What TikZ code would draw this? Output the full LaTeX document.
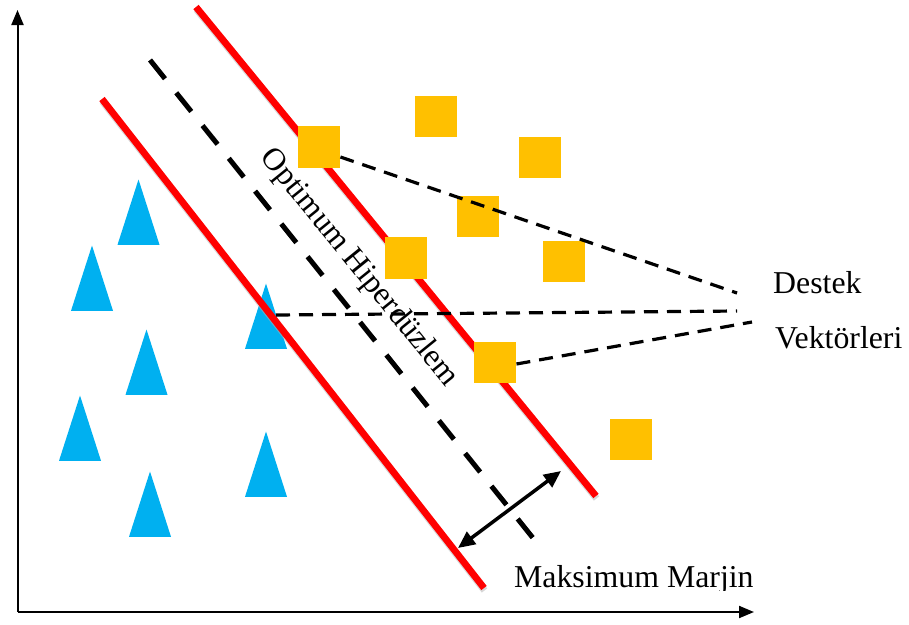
\documentclass[tikz,border=0pt]{standalone}
\usepackage{fontspec}
\setmainfont{Liberation Serif}
\usetikzlibrary{arrows.meta}
\definecolor{sqcol}{HTML}{FFC000}
\definecolor{tricol}{HTML}{00B0F0}
\newcommand\mytri[3]{\coordinate (#1) at (#2,#3);
  \fill[tricol] (#1) -- ++(21,65.3) -- ++(-42,0) -- cycle;}
\begin{document}
\begin{tikzpicture}[x=1pt,y=-1pt,
  sq/.style={fill=sqcol, minimum width=42.5pt, minimum height=41.5pt, inner sep=0pt, draw=none},
  redline/.style={draw=red, line width=6.8pt},
  redshadow/.style={draw=black!30, opacity=0.5, line width=6.8pt},
  hyper/.style={draw=black, line width=5pt, dash pattern=on 24pt off 18pt},
  svline/.style={draw=black, line width=3.2pt, dash pattern=on 14pt off 9pt},
  axisline/.style={draw=black, line width=2pt, -{Triangle[length=15pt,width=12pt]}},
  marjin/.style={draw=black, line width=3.5pt, {Triangle[length=17pt,width=15pt]}-{Triangle[length=17pt,width=15pt]}},
  lbl/.style={font=\fontsize{31.8}{38}\selectfont, inner sep=0pt, anchor=base west}]
\useasboundingbox (0,0) rectangle (909,624);
\fill[white] (0,0) rectangle (909,624);
% triangles
\mytri{t1}{138.5}{179.5}
\mytri{t2}{92}{245.5}
\mytri{t3}{146.5}{329.5}
\mytri{t4}{266}{283.5}
\mytri{t5}{80}{395.5}
\mytri{t6}{150}{471.5}
\mytri{t7}{266}{431.5}
% margin and hyperplane lines
\coordinate (r1a) at (196,7);
\coordinate (r1b) at (596,496);
\coordinate (r2a) at (102,99);
\coordinate (r2b) at (484,588);
\coordinate (ha) at (150,60);
\coordinate (hb) at (533,538);
\draw[redshadow] ([shift={(0.5pt,-2.5pt)}]r1a) -- ([shift={(0.5pt,-2.5pt)}]r1b);
\draw[redshadow] ([shift={(0.5pt,-2.5pt)}]r2a) -- ([shift={(0.5pt,-2.5pt)}]r2b);
\draw[redline] (r1a) -- (r1b);
\draw[redline] (r2a) -- (r2b);
\draw[hyper] (ha) -- (hb);
% squares
\node[sq] (s1) at (319,147) {};
\node[sq] (s2) at (436,116.5) {};
\node[sq] (s3) at (540,157.5) {};
\node[sq] (s4) at (478,216.5) {};
\node[sq] (s5) at (406,258) {};
\node[sq] (s6) at (564,261.5) {};
\node[sq] (s7) at (495,362.5) {};
\node[sq] (s8) at (631,439.5) {};
% support vector pointers
\coordinate (d1) at (737,293);
\coordinate (d2) at (737,311);
\coordinate (d3) at (752,322);
\coordinate (t4sv) at (276,315);
\draw[svline] ([yshift=-10pt]s1.east) -- (d1);
\draw[svline] (t4sv) -- (d2);
\draw[svline] ([yshift=-1.5pt]s7.east) -- (d3);
% margin arrow
\coordinate (m1) at (458,548);
\coordinate (m2) at (561,471);
\draw[marjin] (m1) -- (m2);
% labels
\node[font=\fontsize{31.8}{38}\selectfont, inner sep=0pt, rotate=-51] (opt) at (359,268) {Optimum Hiperdüzlem};
\node[lbl] (destek) at (773,293) {Destek};
\node[lbl] (vektor) at (775,348) {Vektörleri};
\begin{scope}
\clip (500,540) rectangle (780,590);
\node[lbl] (maks) at (514,587) {Maksimum Marjin};
\end{scope}
% axes
\coordinate (o) at (17.5,612);
\coordinate (ytop) at (17.5,10);
\coordinate (xend) at (754,612);
\draw[axisline] (o) -- (ytop);
\draw[axisline] (o) -- (xend);
\end{tikzpicture}
\end{document}
